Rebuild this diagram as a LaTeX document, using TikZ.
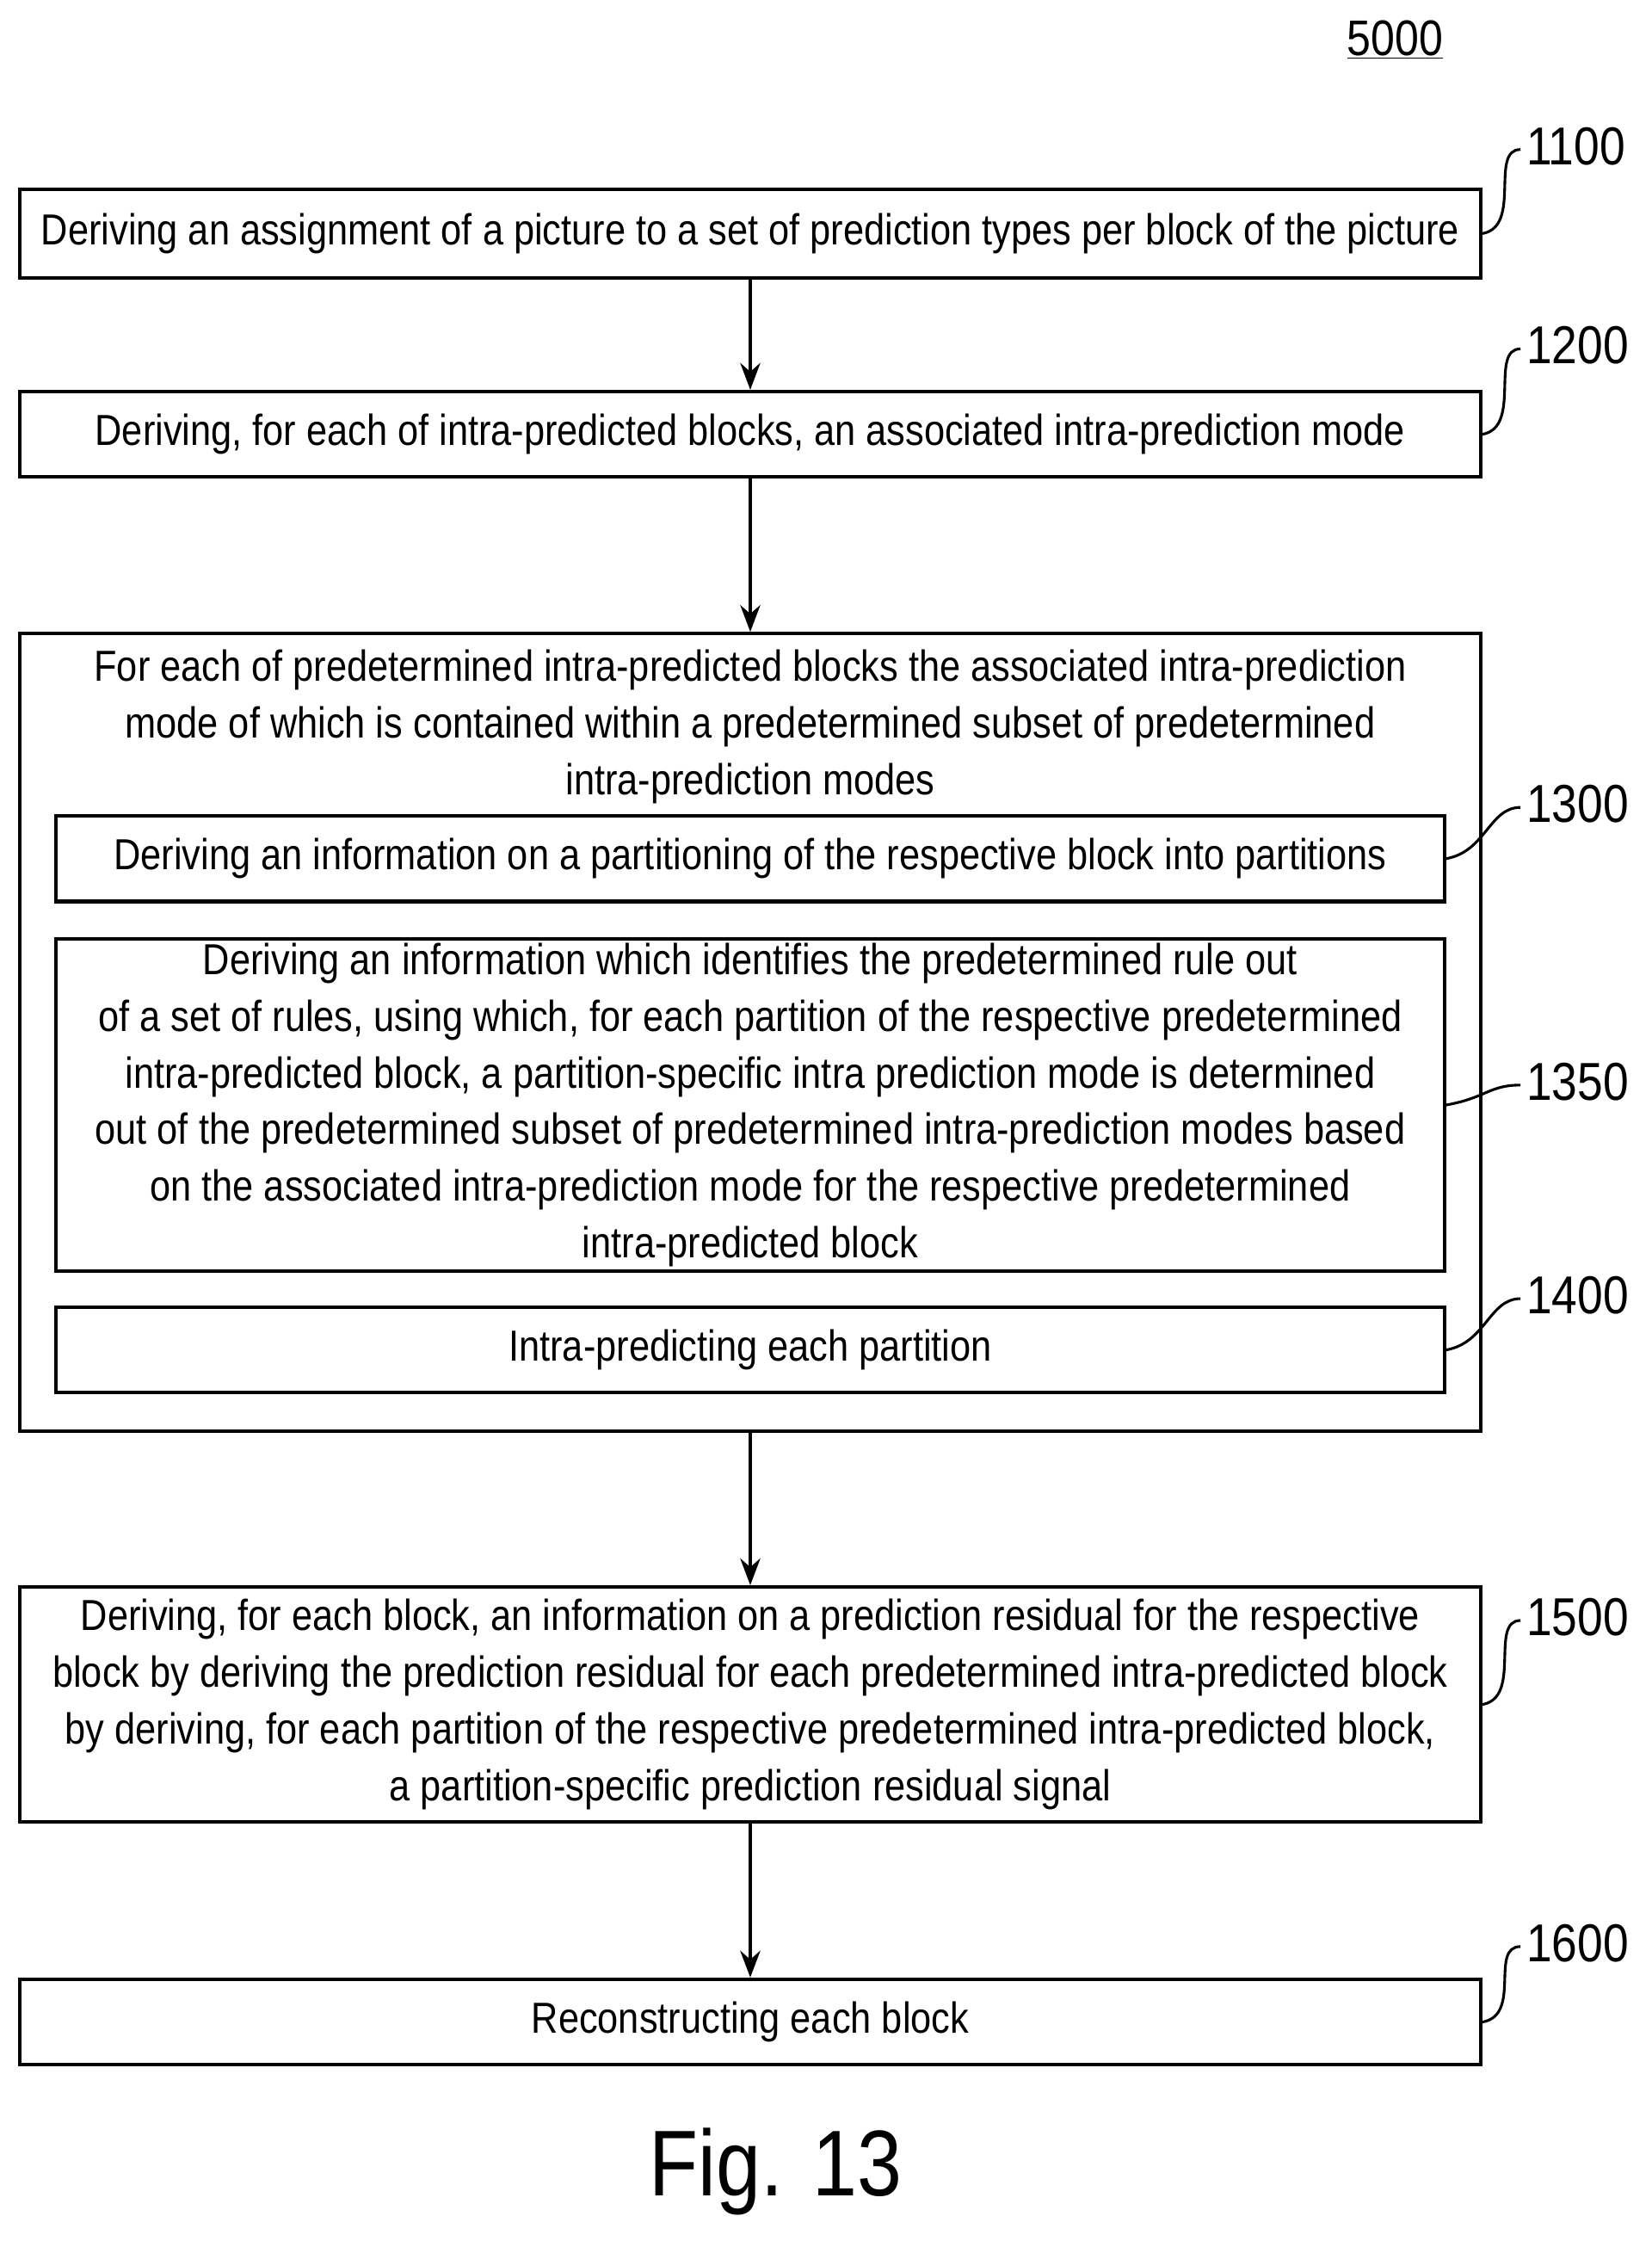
\documentclass[tikz,border=0pt]{standalone}
\usepackage{fontspec}
\setmainfont{Liberation Sans}[FakeStretch=0.86]
\usetikzlibrary{positioning, arrows.meta}

\begin{document}
\begin{tikzpicture}[x=0.03cm, y=-0.03cm]

    \tikzstyle{stage}=[draw=black, line width=2.2pt, align=center, inner sep=0pt,
        font=\fontsize{26}{34}\selectfont];
    \tikzstyle{ref}=[font=\fontsize{32}{36}\selectfont, anchor=south west];
    \tikzstyle{flow}=[-{Stealth[length=16pt, width=12pt]}, line width=2.2pt];
    \tikzstyle{lead}=[line width=1.6pt];

    \useasboundingbox (0,0) rectangle (1160,1578);

    \node[font=\fontsize{30}{34}\selectfont] (fig) at (980,28) {\underline{5000}};

    \node[stage, minimum width=1026*0.03cm, minimum height=62*0.03cm] (1) at (527,164) {Deriving an assignment of a picture to a set of prediction types per block of the picture};
    \node[stage, minimum width=1026*0.03cm, minimum height=60*0.03cm] (2) at (527,305) {Deriving, for each of intra-predicted blocks, an associated intra-prediction mode};
    \node[stage, minimum width=1026*0.03cm, minimum height=560*0.03cm] (big) at (527,725) {};
    \node[font=\fontsize{26}{34}\selectfont, align=center, anchor=north] (head) at (527,452) {For each of predetermined intra-predicted blocks the associated intra-prediction\\mode of which is contained within a predetermined subset of predetermined\\intra-prediction modes};
    \node[stage, minimum width=975*0.03cm, minimum height=60*0.03cm] (3) at (527,603) {Deriving an information on a partitioning of the respective block into partitions};
    \node[stage, minimum width=975*0.03cm, minimum height=233*0.03cm] (4) at (527,776) {Deriving an information which identifies the predetermined rule out\\of a set of rules, using which, for each partition of the respective predetermined\\intra-predicted block, a partition-specific intra prediction mode is determined\\out of the predetermined subset of predetermined intra-prediction modes based\\on the associated intra-prediction mode for the respective predetermined\\intra-predicted block};
    \node[stage, minimum width=975*0.03cm, minimum height=60*0.03cm] (5) at (527,948) {Intra-predicting each partition};
    \node[stage, minimum width=1026*0.03cm, minimum height=165*0.03cm] (6) at (527,1197) {Deriving, for each block, an information on a prediction residual for the respective\\block by deriving the prediction residual for each predetermined intra-predicted block\\by deriving, for each partition of the respective predetermined intra-predicted block,\\a partition-specific prediction residual signal};
    \node[stage, minimum width=1026*0.03cm, minimum height=60*0.03cm] (7) at (527,1420) {Reconstructing each block};

    \node[font=\fontsize{56}{60}\selectfont] (cap) at (545,1525) {Fig. 13};

    \node[ref] (r1) at (1068,120) {1100};
    \node[ref] (r2) at (1068,260) {1200};
    \node[ref] (r3) at (1068,582) {1300};
    \node[ref] (r4) at (1068,777) {1350};
    \node[ref] (r5) at (1068,927) {1400};
    \node[ref] (r6) at (1068,1153) {1500};
    \node[ref] (r7) at (1068,1382) {1600};

    \coordinate (c1) at (1068,105);
    \coordinate (c2) at (1068,245);
    \coordinate (c3) at (1068,567);
    \coordinate (c4) at (1068,762);
    \coordinate (c5) at (1068,912);
    \coordinate (c6) at (1068,1138);
    \coordinate (c7) at (1068,1367);

    \draw[flow] (1) -- (2);
    \draw[flow] (2) -- (big);
    \draw[flow] (big) -- (6);
    \draw[flow] (6) -- (7);

    \draw[lead] (1.east) .. controls +(28,-5) and +(-22,0) .. (c1);
    \draw[lead] (2.east) .. controls +(28,-5) and +(-22,0) .. (c2);
    \draw[lead] (3.east) .. controls +(28,-5) and +(-22,0) .. (c3);
    \draw[lead] (4.east) .. controls +(28,-5) and +(-22,0) .. (c4);
    \draw[lead] (5.east) .. controls +(28,-5) and +(-22,0) .. (c5);
    \draw[lead] (6.east) .. controls +(28,-5) and +(-22,0) .. (c6);
    \draw[lead] (7.east) .. controls +(28,-5) and +(-22,0) .. (c7);

\end{tikzpicture}
\end{document}
